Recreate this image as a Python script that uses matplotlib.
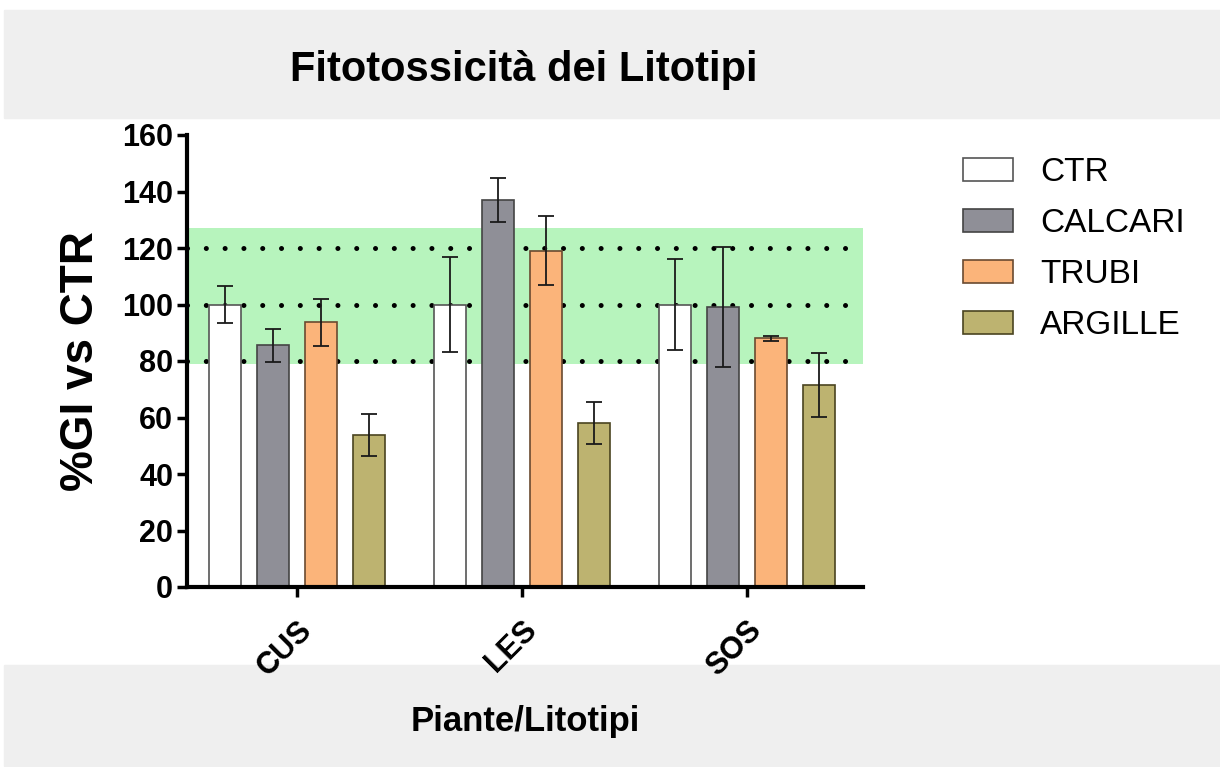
import matplotlib
matplotlib.use("Agg")
import matplotlib.pyplot as plt
import matplotlib.transforms as mtransforms
import numpy as np
from matplotlib.patches import Rectangle, Patch

categories = ["CUS", "LES", "SOS"]
series = ["CTR", "CALCARI", "TRUBI", "ARGILLE"]
ctr = [100, 100, 100]
ctr_err = [6.5, 16.8, 16.0]
calcari = [85.5, 137.0, 99.0]
calcari_err = [5.7, 7.7, 21.2]
trubi = [93.7, 119.0, 88.0]
trubi_err = [8.3, 12.2, 1.0]
argille = [53.8, 58.0, 71.5]
argille_err = [7.3, 7.4, 11.4]
ref_lines = [80, 100, 120]
band = [79, 127]
yticks = [0, 20, 40, 60, 80, 100, 120, 140, 160]

values = [ctr, calcari, trubi, argille]
errors = [ctr_err, calcari_err, trubi_err, argille_err]
colors = ["#ffffff", "#8f8f97", "#fbb47a", "#bdb370"]
edges = ["#555555", "#444444", "#6a4a30", "#4a4420"]

ARIAL = ["Liberation Sans", "DejaVu Sans"]

fig = plt.figure(figsize=(12.2, 7.67), dpi=100)
W, H = 1220, 767
# gray bands (behind everything)
fig.patches.append(Rectangle((4 / W, 1 - 118 / H), 1 - 4 / W, 108 / H,
                             transform=fig.transFigure, color="#efefef", zorder=-5))
fig.patches.append(Rectangle((4 / W, 1 - 766 / H), 1 - 4 / W, 101 / H,
                             transform=fig.transFigure, color="#efefef", zorder=-5))

ax = fig.add_axes([187 / W, 1 - 587 / H, (863 - 187) / W, (587 - 135) / H])
ax.patch.set_alpha(0)

x = np.arange(len(categories))
width = 0.142
offsets = np.array([-1.5, -0.5, 0.5, 1.5]) * 0.214

ax.axhspan(band[0], band[1], color="#b7f4bd", zorder=0, lw=0)
for yv in ref_lines:
    ax.axhline(yv, color="black", lw=3.6, linestyle=(0, (0.01, 3.75)),
               dash_capstyle="round", zorder=1)

for i, s in enumerate(series):
    ax.bar(x + offsets[i], values[i], width, color=colors[i], edgecolor=edges[i],
           linewidth=1.2, zorder=2, label=s)
    ax.errorbar(x + offsets[i], values[i], yerr=errors[i], fmt="none",
                ecolor="#1a1a1a", elinewidth=1.3, capsize=6, capthick=1.3, zorder=3)

ax.set_xlim(-0.489, 2.516)
ax.set_ylim(0, 160)
ax.set_yticks(yticks)
ax.set_xticks(x)
ax.set_xticklabels(categories, rotation=45, ha="right", rotation_mode="anchor",
                   fontsize=22, fontweight="bold", family=ARIAL)
shift = mtransforms.ScaledTranslation(-10 / 100, 0, fig.dpi_scale_trans)
for lab in ax.get_xticklabels():
    lab.set_transform(lab.get_transform() + shift)
for lab in ax.get_yticklabels():
    lab.set_fontsize(22)
    lab.set_fontweight("bold")
    lab.set_family(ARIAL)
for sp in ["top", "right"]:
    ax.spines[sp].set_visible(False)
for sp in ["left", "bottom"]:
    ax.spines[sp].set_linewidth(3)
ax.tick_params(axis="both", width=2.5, length=7, pad=3)
ax.tick_params(axis="x", pad=13)

ax.set_ylabel("%GI vs CTR", fontsize=33, fontweight="bold", family=ARIAL, labelpad=14)

fig.text(524 / W, 1 - 70 / H, "Fitotossicità dei Litotipi", ha="center", va="center",
         fontsize=30, fontweight="bold", family=ARIAL)
fig.text(525 / W, 1 - 722 / H, "Piante/Litotipi", ha="center", va="center",
         fontsize=25, fontweight="bold", family=ARIAL)

handles = [Patch(facecolor=colors[i], edgecolor=edges[i], linewidth=1.2) for i in range(4)]
leg = fig.legend(handles, series, loc="upper left", bbox_to_anchor=(950 / W, 1 - 144 / H),
                 frameon=False, prop={"family": ARIAL, "size": 24},
                 handlelength=1.5, handleheight=0.68, labelspacing=0.6, handletextpad=0.8,
                 borderaxespad=0)

fig.savefig("out.png", dpi=100, facecolor="white")
